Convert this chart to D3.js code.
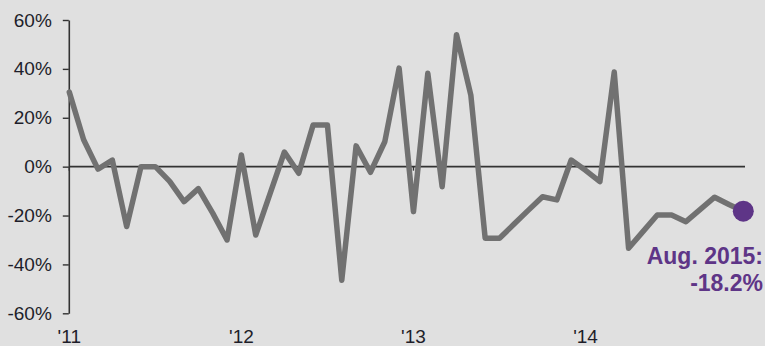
<!DOCTYPE html>
<html><head><meta charset="utf-8">
<script src="https://cdn.jsdelivr.net/npm/d3@7"></script>
<style>
html,body{margin:0;padding:0;background:#e0e0e0;}
svg{display:block;}
text{font-family:"Liberation Sans",Arial,sans-serif;}
</style></head>
<body>
<svg id="chart" width="765" height="346"></svg>
<script>
// data (monthly % change)
const values = [30.5, 11, -1, 2.7, -24.5, 0, 0, -6, -14.3, -9, -19, -30,
  4.8, -28, -11, 6, -2.7, 17, 17, -46.5, 8.5, -2.3, 10.2, 40.3,
  -18.4, 38.2, -8.2, 54, 29.3, -29.3, -29.3, -23.6, -17.9, -12.3, -13.6, 2.7,
  -1.5, -6.1, 38.7, -33.4, -26.6, -19.8, -19.8, -22.5, -17.5, -12.5, -15.5, -18.2];
const yearLabels = ["'11", "'12", "'13", "'14"];
const yearIdx = [0, 12, 24, 36];
const yTicks = [-60, -40, -20, 0, 20, 40, 60];
const lastLabel = ["Aug. 2015:", "-18.2%"];

const svg = d3.select("#chart");
svg.append("rect").attr("width", 765).attr("height", 346).attr("fill", "#e0e0e0");

const x = d3.scalePoint().domain(d3.range(values.length)).range([69.3, 743.3]);
const y = d3.scaleLinear().domain([-60, 60]).range([313.3, 20]);

// y axis
const yAxis = svg.append("g").attr("transform", "translate(68.8,0)")
  .call(d3.axisLeft(y).tickValues(yTicks).tickSize(6).tickSizeOuter(0).tickPadding(11)
    .tickFormat(d => d + "%"));
yAxis.select(".domain").attr("stroke", "#333").attr("stroke-width", 1.6);
yAxis.selectAll(".tick line").attr("stroke", "#333").attr("stroke-width", 1.4);
yAxis.selectAll(".tick text").attr("fill", "#1e1e2a").style("font-size", "19px")
  .attr("font-family", "Liberation Sans, Arial, sans-serif");

// zero line
svg.append("line").attr("x1", 69).attr("x2", 745)
  .attr("y1", y(0)).attr("y2", y(0)).attr("stroke", "#333").attr("stroke-width", 1.6);

// small ticks on zero line at year starts
svg.selectAll(".ytick0").data(yearIdx).enter().append("line")
  .attr("x1", d => x(d)).attr("x2", d => x(d))
  .attr("y1", y(0)).attr("y2", y(0) + 4).attr("stroke", "#333").attr("stroke-width", 1.4);

// x labels
svg.selectAll(".xl").data(yearIdx).enter().append("text")
  .attr("x", d => x(d)).attr("y", 343).attr("text-anchor", "middle")
  .attr("fill", "#1e1e2a").style("font-size", "19px")
  .text((d, i) => yearLabels[i]);

// line
const line = d3.line().x((d, i) => x(i)).y(d => y(d));
svg.append("path").datum(values).attr("d", line)
  .attr("fill", "none").attr("stroke", "#717171").attr("stroke-width", 5.5)
  .attr("stroke-linejoin", "round").attr("stroke-linecap", "round");

// last point
const li = values.length - 1;
svg.append("circle").attr("cx", x(li)).attr("cy", y(values[li])).attr("r", 10.5)
  .attr("fill", "#5e3587");

svg.selectAll(".ll").data(lastLabel).enter().append("text")
  .attr("x", 763).attr("y", (d, i) => 264 + i * 27).attr("text-anchor", "end")
  .attr("fill", "#5e3587").style("font-size", "23px").style("font-weight", "bold")
  .text(d => d);
</script>
</body></html>
